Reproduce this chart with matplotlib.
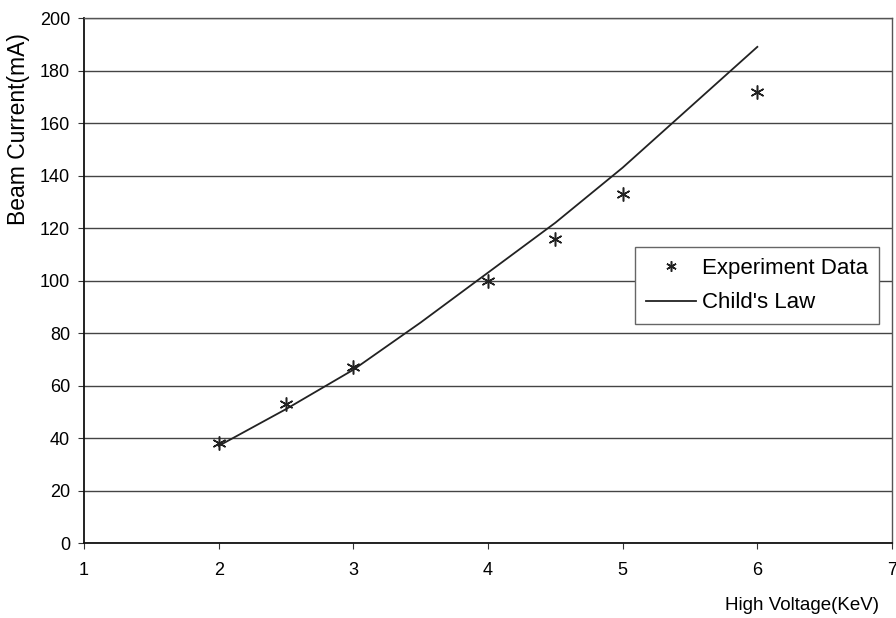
import matplotlib
matplotlib.use("Agg")
import matplotlib.pyplot as plt

plt.rcParams['font.family'] = ['Liberation Sans', 'DejaVu Sans']

# experiment data
exp_voltage = [2, 2.5, 3, 4, 4.5, 5, 6]
exp_current = [38, 53, 67, 100, 116, 133, 172]

# Child's law curve
law_voltage = [2, 2.5, 3, 3.5, 4, 4.5, 5, 5.5, 6]
law_current = [37, 51, 66, 84, 103, 122, 143, 166, 189]

x_ticks = [1, 2, 3, 4, 5, 6, 7]
y_ticks = [0, 20, 40, 60, 80, 100, 120, 140, 160, 180, 200]

fig = plt.figure(figsize=(8.96, 6.18), dpi=100)
ax = fig.add_axes([84 / 896, 1 - 543 / 618, (892 - 84) / 896, (543 - 18) / 618])

ax.plot(exp_voltage, exp_current, linestyle='none', marker=(6, 2, 0),
        markersize=10, markeredgewidth=1.1, color='#222222', label='Experiment Data')
ax.plot(law_voltage, law_current, color='#222222', linewidth=1.3, label="Child's Law")

ax.set_xlim(1, 7)
ax.set_ylim(0, 200)
ax.set_xticks(x_ticks)
ax.set_yticks(y_ticks)
ax.tick_params(axis='both', labelsize=13, length=4, color='#333333')
ax.tick_params(axis='x', pad=10)
ax.tick_params(axis='y', pad=6)
ax.yaxis.grid(True, color='#444444', linewidth=1.0)
ax.set_axisbelow(True)

for side in ['left', 'bottom']:
    ax.spines[side].set_color('#111111')
    ax.spines[side].set_linewidth(1.3)
for side in ['top', 'right']:
    ax.spines[side].set_color('#555555')
    ax.spines[side].set_linewidth(1.0)

leg = ax.legend(loc='upper left', bbox_to_anchor=((635 - 84) / 808, (543 - 247) / 525),
                fontsize=16, frameon=True, fancybox=False, handlelength=2.25,
                handletextpad=0.3, borderpad=0.48, labelspacing=0.62,
                borderaxespad=0, markerscale=0.75)
leg.get_frame().set_edgecolor('#666666')
leg.get_frame().set_linewidth(1.0)
leg.get_frame().set_alpha(1.0)

fig.text(18 / 896, 1 - 129 / 618, 'Beam Current(mA)', rotation=90,
         ha='center', va='center', fontsize=16.5)
fig.text(879 / 896, 1 - 606 / 618, 'High Voltage(KeV)', ha='right', va='center',
         fontsize=13.5)

fig.savefig('out.png', dpi=100)
